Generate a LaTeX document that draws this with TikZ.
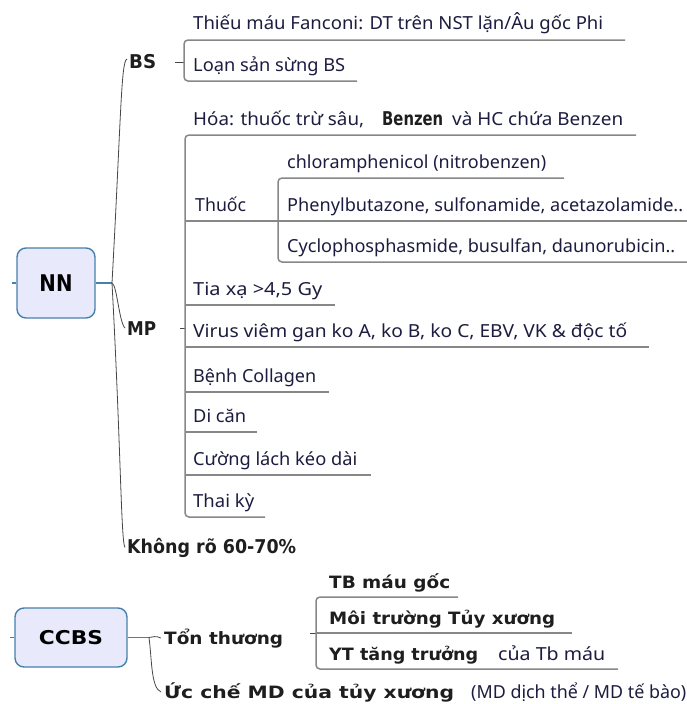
\documentclass[tikz,border=0pt]{standalone}
\usepackage{fontspec}
\usepackage{graphicx}
\setmainfont{Noto Sans}
\newfontfamily\nfont{Noto Sans}
\newfontfamily\vfont{DejaVu Sans}
\definecolor{navytext}{RGB}{28,28,64}
\definecolor{darktext}{RGB}{30,30,30}
\definecolor{ulgray}{RGB}{135,135,135}
\definecolor{conngray}{RGB}{70,70,70}
\definecolor{rootblue}{RGB}{70,128,172}
\definecolor{rootfill}{RGB}{232,234,252}
% set a label at a fixed width, keeping its natural height
\newcommand\fw[2]{\resizebox{#1pt}{\height}{#2}}
\newcommand\ntext{\nfont\fontsize{18}{21}\selectfont}
\newcommand\btext{\vfont\bfseries\fontsize{19}{22}\selectfont}
\newcommand\vtext{\vfont\bfseries\fontsize{17}{20}\selectfont}
\begin{document}
\begin{tikzpicture}[x=1pt,y=-1pt,
  leaf/.style={inner sep=0pt,anchor=base west,text=navytext,font=\ntext},
  lvl/.style={inner sep=0pt,anchor=base west,text=darktext,font=\btext},
  vlvl/.style={inner sep=0pt,anchor=base west,text=darktext,font=\vtext},
  root/.style={draw=rootblue,fill=rootfill,rounded corners=9pt,line width=1.4pt,
    inner sep=0pt,text=black},
  link/.style={draw=rootblue,line width=1.6pt},
  conn/.style={draw=conngray,line width=0.8pt},
  ul/.style={draw=ulgray,line width=1.5pt,rounded corners=4pt}]
\useasboundingbox (0,0) rectangle (687,704);

% ---------------- NN ----------------
\node[root,minimum width=78pt,minimum height=70pt,font=\vfont\bfseries\fontsize{23}{26}\selectfont]
  (nn) at (56,283) {\fw{33}{NN}};
\coordinate (nnin) at (12,283);
\coordinate (nnj) at (112,283);
\draw[link] (nnin) -- (nn.west);
\draw[link] (nn.east) -- (nnj);

\node[lvl] (bs) at (129,68) {\fw{27}{BS}};
\node[lvl] (mp) at (127,335) {\fw{29}{MP}};
\node[lvl] (kr) at (127,553) {\fw{169}{Không rõ 60-70\%}};

\draw[conn] (nnj) .. controls (121,120) and (121,60) .. ([xshift=-2pt,yshift=2pt]bs.west);
\draw[conn] (nnj) .. controls (117,285) and (119,322) .. ([xshift=-2pt]mp.west);
\draw[conn] (nnj) .. controls (121,450) and (121,542) .. ([xshift=-2pt]kr.west);

% BS children
\node[leaf] (fan) at (193,30) {\fw{410}{Thiếu máu Fanconi: DT trên NST lặn/Âu gốc Phi}};
\node[leaf] (loan) at (193,71) {\fw{152}{Loạn sản sừng BS}};
\coordinate (bsj) at (175,62);
\coordinate (bsb) at (184,62);
\draw[conn] (bsj) -- (bsb);
\draw[ul] (625,40) -- (184,40) -- (184,81) -- (357,81);

% MP children
\node[leaf] (hoa) at (193,125) {\fw{171}{Hóa: thuốc trừ sâu,}\hspace{18pt}{\btext\color{darktext}\fw{61}{Benzen}}\hspace{9pt}\fw{171}{và HC chứa Benzen}};
\node[leaf] (thuoc) at (195,211) {\fw{51}{Thuốc}};
\node[leaf] (tia) at (193,295) {\fw{129}{Tia xạ >4,5 Gy}};
\node[leaf] (virus) at (193,337) {\fw{434}{Virus viêm gan ko A, ko B, ko C, EBV, VK \& độc tố}};
\node[leaf] (benh) at (193,382) {\fw{123}{Bệnh Collagen}};
\node[leaf] (dican) at (193,422) {\fw{53}{Di căn}};
\node[leaf] (cuong) at (193,465) {\fw{164}{Cường lách kéo dài}};
\node[leaf] (thai) at (193,507) {\fw{61}{Thai kỳ}};
\coordinate (mpj) at (180,328);
\coordinate (mpb) at (185,328);
\draw[conn] (mpj) -- (mpb);
\draw[ul] (636,135) -- (185,135) -- (185,517) -- (265,517);
\draw[ul] (185,221) -- (278,221);
\draw[ul] (185,305) -- (335,305);
\draw[ul] (185,347) -- (649,347);
\draw[ul] (185,392) -- (329,392);
\draw[ul] (185,432) -- (257,432);
\draw[ul] (185,475) -- (371,475);

% drugs
\node[leaf] (chlo) at (287,168) {\fw{259}{chloramphenicol (nitrobenzen)}};
\node[leaf] (phen) at (287,211) {\fw{396}{Phenylbutazone, sulfonamide, acetazolamide..}};
\node[leaf] (cyc) at (287,252) {\fw{388}{Cyclophosphasmide, busulfan, daunorubicin..}};
\draw[ul] (564,178) -- (278,178) -- (278,262) -- (690,262);
\draw[ul] (278,221) -- (690,221);

% ---------------- CCBS ----------------
\node[root,minimum width=112pt,minimum height=59pt,font=\vfont\bfseries\fontsize{19}{22}\selectfont]
  (cc) at (71,637.5) {\fw{64}{CCBS}};
\coordinate (ccin) at (10,637.5);
\coordinate (ccj) at (149,637.5);
\draw[link] (ccin) -- (cc.west);
\draw[link] (cc.east) -- (ccj);

\node[vlvl] (ton) at (164,644) {\fw{119}{Tổn thương}};
\node[vlvl] (uc) at (164,698) {\fw{290}{Ức chế MD của tủy xương}\hspace{17pt}{\ntext\color{navytext}\mdseries\fw{215}{(MD dịch thể / MD tế bào)}}};
\draw[conn] (ccj) .. controls (153,637.5) and (155,635) .. ([xshift=-3pt]ton.west);
\draw[conn] (ccj) .. controls (152,660) and (151,688) .. ([xshift=-3pt]uc.west);

\node[vlvl] (tbm) at (329,588) {\fw{121}{TB máu gốc}};
\node[vlvl] (moi) at (329,624) {\fw{226}{Môi trường Tủy xương}};
\node[vlvl] (yt) at (329,660) {\fw{149}{YT tăng trưởng}\hspace{20pt}{\ntext\color{navytext}\mdseries\fw{107}{của Tb máu}}};
\coordinate (tonj) at (310,633);
\coordinate (tonb) at (316,633);
\draw[conn] (tonj) -- (tonb);
\draw[ul] (458,597) -- (316,597) -- (316,669) -- (618,669);
\draw[ul] (316,633) -- (572,633);
\end{tikzpicture}
\end{document}
